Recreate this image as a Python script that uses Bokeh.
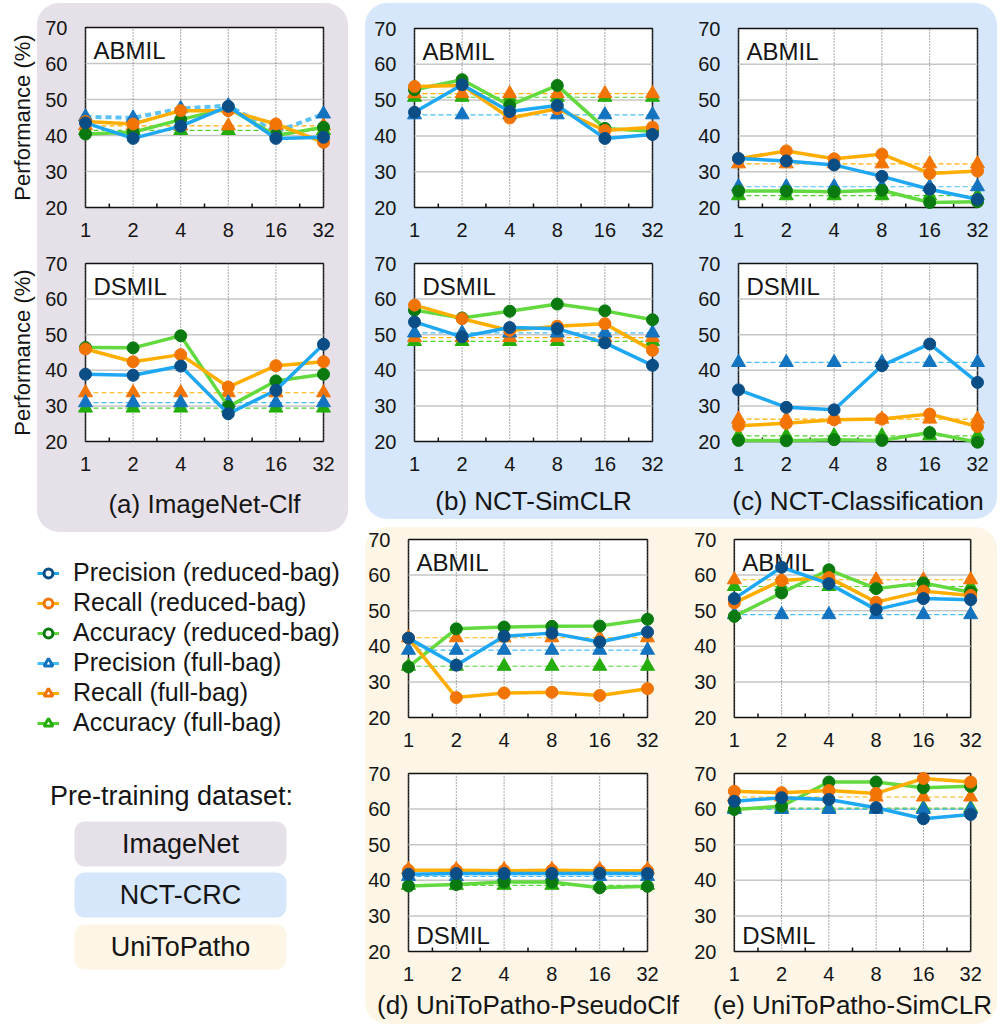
import numpy as np
from bokeh.plotting import figure
from bokeh.layouts import row, column
from bokeh.models import (Range1d, FixedTicker, Legend, LegendItem,
                          BoxAnnotation, Spacer, ColumnDataSource)
from bokeh.embed import file_html
from bokeh.resources import INLINE
from bokeh.core.properties import value

FONT = "Liberation Sans"

# ---------------- data ----------------
x_labels = ["1", "2", "4", "8", "16", "32"]
y_ticks = [20, 30, 40, 50, 60, 70]

# (a) ImageNet-Clf, ABMIL
a1_prec_red = [43.5, 39.2, 42.6, 48.1, 39.2, 39.5]
a1_rec_red = [43.9, 43.2, 46.9, 46.9, 43.2, 38.1]
a1_acc_red = [40.4, 40.9, 44.4, 47.6, 40.0, 42.3]
a1_prec_full = [45.2, 44.9, 47.5, 48.3, 41.0, 46.0]
a1_rec_full = [42.7, 42.7, 42.7, 42.7, 42.7, 42.7]
a1_acc_full = [41.4, 41.4, 41.4, 41.4, 41.4, 41.4]
# (a) ImageNet-Clf, DSMIL
a2_prec_red = [38.9, 38.6, 41.2, 27.8, 34.4, 47.3]
a2_rec_red = [46.0, 42.4, 44.4, 35.3, 41.3, 42.4]
a2_acc_red = [46.4, 46.3, 49.7, 29.8, 37.0, 38.9]
a2_prec_full = [30.9, 30.9, 30.9, 30.9, 30.9, 30.9]
a2_rec_full = [33.7, 33.7, 33.7, 33.7, 33.7, 33.7]
a2_acc_full = [29.4, 29.4, 29.4, 29.4, 29.4, 29.4]
# (b) NCT-SimCLR, ABMIL
b1_prec_red = [46.6, 54.3, 46.8, 48.5, 39.3, 40.4]
b1_rec_red = [53.8, 54.1, 45.0, 47.6, 41.5, 42.4]
b1_acc_red = [52.9, 55.7, 48.5, 54.1, 42.1, 41.3]
b1_prec_full = [45.9, 45.9, 45.9, 45.9, 45.9, 45.9]
b1_rec_full = [51.8, 51.8, 51.8, 51.8, 51.8, 51.8]
b1_acc_full = [50.8, 50.8, 50.8, 50.8, 50.8, 50.8]
# (b) NCT-SimCLR, DSMIL
b2_prec_red = [53.6, 49.4, 52.0, 51.7, 47.7, 41.4]
b2_rec_red = [58.3, 54.5, 51.2, 52.4, 53.1, 45.6]
b2_acc_red = [56.9, 54.7, 56.6, 58.6, 56.7, 54.2]
b2_prec_full = [50.5, 50.5, 50.5, 50.5, 50.5, 50.5]
b2_rec_full = [49.2, 49.2, 49.2, 49.2, 49.2, 49.2]
b2_acc_full = [48.1, 48.1, 48.1, 48.1, 48.1, 48.1]
# (c) NCT-Classification, ABMIL
c1_prec_red = [33.7, 33.0, 31.9, 28.7, 25.1, 22.3]
c1_rec_red = [33.6, 35.8, 33.6, 34.9, 29.5, 30.2]
c1_acc_red = [24.6, 24.6, 24.4, 24.8, 21.4, 21.6]
c1_prec_full = [25.8, 25.8, 25.8, 25.8, 25.8, 25.8]
c1_rec_full = [32.2, 32.2, 32.2, 32.2, 32.2, 32.2]
c1_acc_full = [23.3, 23.3, 23.3, 23.3, 23.3, 23.3]
# (c) NCT-Classification, DSMIL
c2_prec_red = [34.5, 29.6, 28.9, 41.3, 47.4, 36.6]
c2_rec_red = [24.4, 25.1, 26.1, 26.3, 27.7, 24.2]
c2_acc_red = [20.3, 20.2, 20.5, 20.3, 22.5, 19.8]
c2_prec_full = [42.2, 42.2, 42.2, 42.2, 42.2, 42.2]
c2_rec_full = [26.3, 26.3, 26.3, 26.3, 26.3, 26.3]
c2_acc_full = [21.6, 21.6, 21.6, 21.6, 21.6, 21.6]
# (d) UniToPatho-PseudoClf, ABMIL
d1_prec_red = [42.3, 34.7, 42.8, 43.7, 41.2, 44.0]
d1_rec_red = [42.3, 25.6, 26.9, 27.1, 26.2, 28.1]
d1_acc_red = [34.2, 44.9, 45.4, 45.6, 45.7, 47.6]
d1_prec_full = [38.9, 38.9, 38.9, 38.9, 38.9, 38.9]
d1_rec_full = [42.4, 42.4, 42.4, 42.4, 42.4, 42.4]
d1_acc_full = [34.4, 34.4, 34.4, 34.4, 34.4, 34.4]
# (d) UniToPatho-PseudoClf, DSMIL
d2_prec_red = [41.7, 41.9, 41.9, 41.9, 42.0, 41.9]
d2_rec_red = [42.8, 42.8, 42.7, 42.8, 42.7, 42.7]
d2_acc_red = [38.4, 38.8, 39.5, 39.5, 37.9, 38.3]
d2_prec_full = [41.1, 41.1, 41.1, 41.1, 41.1, 41.1]
d2_rec_full = [43.0, 43.0, 43.0, 43.0, 43.0, 43.0]
d2_acc_full = [38.6, 38.6, 38.6, 38.6, 38.6, 38.6]
# (e) UniToPatho-SimCLR, ABMIL
e1_prec_red = [53.4, 62.2, 57.6, 50.3, 53.4, 53.1]
e1_rec_red = [52.2, 58.5, 59.3, 52.4, 55.5, 54.3]
e1_acc_red = [48.4, 55.0, 61.5, 56.2, 57.8, 55.2]
e1_prec_full = [48.9, 48.9, 48.9, 48.9, 48.9, 48.9]
e1_rec_full = [58.7, 58.7, 58.7, 58.7, 58.7, 58.7]
e1_acc_full = [56.8, 56.8, 56.8, 56.8, 56.8, 56.8]
# (e) UniToPatho-SimCLR, DSMIL
e2_prec_red = [62.2, 63.2, 62.7, 60.4, 57.3, 58.5]
e2_rec_red = [65.0, 64.6, 65.2, 64.4, 68.6, 67.6]
e2_acc_red = [59.9, 60.8, 67.6, 67.6, 66.0, 66.4]
e2_prec_full = [59.9, 59.9, 59.9, 59.9, 59.9, 59.9]
e2_rec_full = [63.4, 63.4, 63.4, 63.4, 63.4, 63.4]
e2_acc_full = [60.3, 60.3, 60.3, 60.3, 60.3, 60.3]

legend_labels = ["Precision (reduced-bag)", "Recall (reduced-bag)", "Accuracy (reduced-bag)",
                 "Precision (full-bag)", "Recall (full-bag)", "Accuracy (full-bag)"]
panel_titles = ["(a) ImageNet-Clf", "(b) NCT-SimCLR", "(c) NCT-Classification",
                "(d) UniToPatho-PseudoClf", "(e) UniToPatho-SimCLR"]
dataset_names = ["ImageNet", "NCT-CRC", "UniToPatho"]

# ---------------- styles ----------------
P_LINE, P_DOT, P_TRI, P_DASH = "#1ea7f2", "#0b4e86", "#1373bf", "#45baf5"
R_LINE, R_DOT, R_TRI, R_DASH = "#ffae00", "#f27405", "#f27405", "#ffae00"
A_LINE, A_DOT, A_TRI, A_DASH = "#62d93f", "#0a7a10", "#25ad0c", "#52cf30"
COL_A, COL_BC, COL_DE = "#e6e1e9", "#d6e7fb", "#fdf5e5"
TXT = "#151515"
PAD = 10  # px padding around the plotting box so edge markers are not clipped

xs = list(range(len(x_labels)))


def make_sub(series, fig_w, fig_h, fl, ft, fw, fh, model, model_top=True,
             xlabel=None, label_standoff=14, thick_prec_full=False):
    prec_red, rec_red, acc_red, prec_full, rec_full, acc_full = series
    x0, x1 = xs[0], xs[-1]
    y0, y1 = y_ticks[0], y_ticks[-1]
    ppx = fw / (x1 - x0)
    ppy = fh / (y1 - y0)
    padx, pady = PAD / ppx, PAD / ppy
    p = figure(width=fig_w, height=fig_h,
               x_range=Range1d(x0 - padx, x1 + padx), y_range=Range1d(y0 - pady, y1 + pady),
               output_backend="svg", toolbar_location=None,
               min_border_left=fl - PAD, min_border_right=fig_w - fl - fw - PAD,
               min_border_top=ft - PAD, min_border_bottom=fig_h - ft - fh - PAD,
               border_fill_color=None, background_fill_color=None, outline_line_color=None)
    p.xgrid.visible = False
    p.ygrid.visible = False
    for ax in (p.xaxis, p.yaxis):
        ax.axis_line_color = None
        ax.major_tick_line_color = None
        ax.minor_tick_line_color = None
        ax.major_tick_out = 0
        ax.major_tick_in = 0
        ax.major_label_text_font = FONT
        ax.major_label_text_font_size = "20px"
        ax.major_label_text_color = TXT
    p.xaxis.ticker = FixedTicker(ticks=xs)
    p.xaxis.major_label_overrides = {i: lab for i, lab in zip(xs, x_labels)}
    p.xaxis.major_label_standoff = 5
    p.yaxis.ticker = FixedTicker(ticks=y_ticks)
    p.yaxis.major_label_standoff = 8
    if xlabel:
        p.xaxis.axis_label = xlabel
        p.xaxis.axis_label_text_font = FONT
        p.xaxis.axis_label_text_font_size = "26px"
        p.xaxis.axis_label_text_font_style = "normal"
        p.xaxis.axis_label_text_color = TXT
        p.xaxis.axis_label_standoff = label_standoff

    # plotting box, grid, minor ticks
    p.quad(left=[x0], right=[x1], bottom=[y0], top=[y1], fill_color="white",
           line_color="#111111", line_width=1.5)
    inner = y_ticks[1:-1]
    p.segment(x0=[x0] * len(inner), x1=[x1] * len(inner), y0=inner, y1=inner,
              line_color="#c6c6c6", line_width=1.5)
    p.segment(x0=xs, x1=xs, y0=[y0] * len(xs), y1=[y1] * len(xs),
              line_color="#555555", line_width=1, line_dash="1 2")
    mids = [x + 0.5 for x in xs[:-1]]
    p.segment(x0=mids, x1=mids, y0=[y0] * len(mids), y1=[y0 + 4 / ppy] * len(mids),
              line_color="#111111", line_width=1.5)

    # model name (drawn under the data)
    if model_top:
        ty = y1 - 9 / ppy
    else:
        ty = y0 + 30 / ppy
    p.text(x=[x0 + 8 / ppx], y=[ty], text=[model], text_baseline="top", text_align="left",
           text_font=value(FONT), text_font_size="24px", text_color=TXT)

    # full-bag: dashed references with triangles
    fulls = [(acc_full, A_TRI, A_DASH, False), (rec_full, R_TRI, R_DASH, False),
             (prec_full, P_TRI, P_DASH, thick_prec_full)]
    for vals, tri, dash, thick in fulls:
        if thick:
            p.line(xs, vals, line_color="#5cc3f7", line_width=4, line_dash="6 4")
        else:
            p.line(xs, vals, line_color=dash, line_width=1.2, line_dash="5 3")
    for vals, tri, dash, thick in fulls:
        p.scatter(xs, vals, marker="triangle", size=14, fill_color=tri, line_color=tri)

    # reduced-bag: solid lines with circles
    for vals, lc, dc in [(acc_red, A_LINE, A_DOT), (rec_red, R_LINE, R_DOT), (prec_red, P_LINE, P_DOT)]:
        p.line(xs, vals, line_color=lc, line_width=3.5)
        p.scatter(xs, vals, marker="circle", size=12, fill_color=dc, line_color=dc)
    return p


def S(pre):
    g = globals()
    return [g[pre + s] for s in ("_prec_red", "_rec_red", "_acc_red",
                                 "_prec_full", "_rec_full", "_acc_full")]


def panel_style(c):
    return {"background-color": c, "border-radius": "22px"}


# panel (a)
a1 = make_sub(S("a1"), 311, 245, 48, 24, 238, 180, "ABMIL", thick_prec_full=True)
a2 = make_sub(S("a2"), 311, 284, 48, 15, 238, 178, "DSMIL", xlabel=panel_titles[0], label_standoff=15)
panel_a = column(a1, a2, styles=panel_style(COL_A))

# panel (b)(c)
b1 = make_sub(S("b1"), 320, 245, 49, 25, 238, 179, "ABMIL")
b2 = make_sub(S("b2"), 320, 271, 49, 15, 238, 178, "DSMIL", xlabel=panel_titles[1], label_standoff=12)
c1 = make_sub(S("c1"), 312, 245, 53, 25, 239, 179, "ABMIL")
c2 = make_sub(S("c2"), 312, 271, 53, 15, 239, 178, "DSMIL", xlabel=panel_titles[2], label_standoff=12)
panel_bc = row(column(b1, b2), column(c1, c2), styles=panel_style(COL_BC))

# panel (d)(e)
d1 = make_sub(S("d1"), 320, 234, 43, 12, 239, 178, "ABMIL")
d2 = make_sub(S("d2"), 320, 263, 43, 12, 239, 178, "DSMIL", model_top=False,
              xlabel=panel_titles[3], label_standoff=6)
e1 = make_sub(S("e1"), 312, 234, 49, 12, 240, 178, "ABMIL")
e2 = make_sub(S("e2"), 312, 263, 45, 12, 240, 178, "DSMIL", model_top=False,
              xlabel=panel_titles[4], label_standoff=6)
panel_de = row(column(d1, d2), column(e1, e2), styles=panel_style(COL_DE))


def blank(w, h, left=0):
    f = figure(width=w, height=h, x_range=Range1d(left, w), y_range=Range1d(0, h),
               output_backend="svg", toolbar_location=None, min_border=0, min_border_left=left,
               x_axis_location=None, y_axis_location=None, outline_line_color=None,
               border_fill_color=None, background_fill_color=None)
    f.grid.visible = False
    return f


# y-axis label strip
SH = 529
strip = blank(37, SH)
strip.text(x=[22, 22], y=[SH - 114, SH - 349], text=["Performance (%)", "Performance (%)"],
           angle=np.pi / 2, text_align="center", text_baseline="middle",
           text_font=value(FONT), text_font_size="22px", text_color=TXT)

# legend area
LW, LH = 348, 492
leg = blank(LW, LH, left=11)
src = ColumnDataSource(dict(x=[-1000], y=[-1000]))
spec = [(P_LINE, "circle", P_DOT), (R_LINE, "circle", R_DOT), (A_LINE, "circle", A_DOT),
        (P_DASH, "triangle", P_TRI), (R_DASH, "triangle", R_TRI), (A_DASH, "triangle", A_TRI)]
items = []
for lab, (lc, mk, mc) in zip(legend_labels, spec):
    rl = leg.line("x", "y", source=src, line_color=lc, line_width=3)
    rm = leg.scatter("x", "y", source=src, marker=mk, size=12 if mk == "circle" else 15,
                     fill_color="white", line_color=mc, line_width=3)
    items.append(LegendItem(label=lab, renderers=[rl, rm]))
legend = Legend(items=items, location="top_left", margin=26, padding=0, spacing=1,
                glyph_width=22, glyph_height=22, label_standoff=14, label_height=24,
                label_text_font=FONT, label_text_font_size="25px", label_text_color=TXT,
                border_line_color=None, background_fill_alpha=0)
leg.add_layout(legend)

leg.text(x=[171], y=[LH - 263], text=["Pre-training dataset:"], text_align="center",
         text_baseline="middle", text_font=value(FONT), text_font_size="27px", text_color=TXT)
box_tops = [289, 340, 392]
box_h = 45
for name, col, t in zip(dataset_names, [COL_A, COL_BC, COL_DE], box_tops):
    leg.add_layout(BoxAnnotation(left=74, right=286, top=LH - t, bottom=LH - t - box_h,
                                 fill_color=col, fill_alpha=1, line_alpha=0,
                                 border_radius=10, level="underlay"))
leg.text(x=[180] * 3, y=[LH - t - box_h / 2 for t in box_tops], text=dataset_names,
         text_align="center", text_baseline="middle", text_font=value(FONT),
         text_font_size="27px", text_color=TXT)

left_col = column(row(strip, panel_a), leg)
right_col = column(panel_bc, Spacer(width=632, height=8), panel_de)
body = row(left_col, Spacer(width=17, height=10), right_col)
root = column(Spacer(width=10, height=3), body)

open("out.html", "w").write(file_html(root, INLINE))
